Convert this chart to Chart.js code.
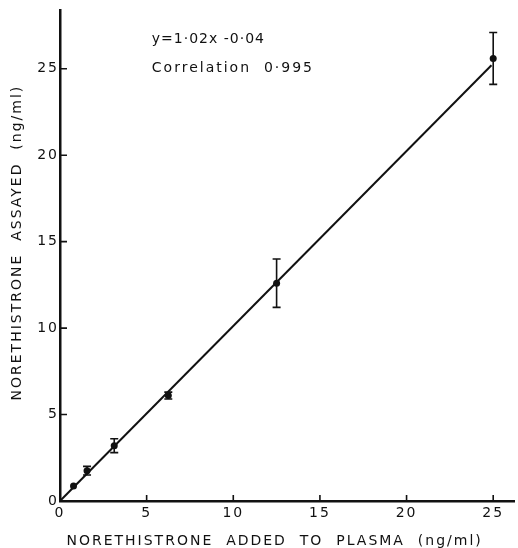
<!DOCTYPE html>
<html>
<head>
<meta charset="utf-8">
<script src="https://cdn.jsdelivr.net/npm/chart.js@4"></script>
<style>
  html, body { margin: 0; padding: 0; background: #fff; }
</style>
</head>
<body>
<canvas id="myChart" width="518" height="548"></canvas>
<script>
// values
var added   = [0.78, 1.56, 3.13, 6.25, 12.5, 25];    // ng/ml added to plasma
var assayed = [0.87, 1.75, 3.2, 6.1, 12.6, 25.6];    // ng/ml assayed
var errs    = [0, 0.25, 0.4, 0.2, 1.4, 1.5];         // +/- error bars
var fitX = [0, 24.9];
var fitY = [0, 25.2];
var notes = ["y=1·02x -0·04", "Correlation  0·995"];
var noteX = 5.3;
var noteY = [26.7, 25.0];

var ink = "#111";
var fontName = "'DejaVu Sans', sans-serif";

// error bars drawn through the chart's own scales
var errorBars = {
  id: 'errorBars',
  afterDatasetsDraw: function(chart) {
    var ctx = chart.ctx, xs = chart.scales.x, ys = chart.scales.y;
    ctx.save();
    ctx.strokeStyle = ink;
    ctx.lineWidth = 1.6;
    for (var i = 0; i < added.length; i++) {
      if (!errs[i]) continue;
      var px = xs.getPixelForValue(added[i]);
      var top = ys.getPixelForValue(assayed[i] + errs[i]);
      var bot = ys.getPixelForValue(assayed[i] - errs[i]);
      ctx.beginPath();
      ctx.moveTo(px, top); ctx.lineTo(px, bot);
      ctx.moveTo(px - 4, top); ctx.lineTo(px + 4, top);
      ctx.moveTo(px - 4, bot); ctx.lineTo(px + 4, bot);
      ctx.stroke();
    }
    ctx.restore();
  }
};

// inward tick marks + the equation text
var extras = {
  id: 'extras',
  beforeDraw: function(chart) { chart.ctx.letterSpacing = '2px'; },
  beforeDatasetsDraw: function(chart) { chart.ctx.letterSpacing = '0px'; },
  afterDraw: function(chart) {
    var ctx = chart.ctx, xs = chart.scales.x, ys = chart.scales.y;
    ctx.save();
    ctx.strokeStyle = ink;
    ctx.lineWidth = 1.6;
    ctx.beginPath();
    xs.ticks.forEach(function(t) {
      var px = xs.getPixelForValue(t.value);
      ctx.moveTo(px, xs.top); ctx.lineTo(px, xs.top - 6);
    });
    ys.ticks.forEach(function(t) {
      var py = ys.getPixelForValue(t.value);
      ctx.moveTo(ys.right, py); ctx.lineTo(ys.right + 7, py);
    });
    ctx.stroke();

    ctx.fillStyle = ink;
    ctx.font = "14px " + fontName;
    ctx.textBaseline = 'middle';
    ctx.textAlign = 'left';
    for (var i = 0; i < notes.length; i++) {
      ctx.letterSpacing = i === 0 ? '1px' : '2px';
      ctx.fillText(notes[i], xs.getPixelForValue(noteX), ys.getPixelForValue(noteY[i]));
    }
    ctx.restore();
  }
};

function drawChart() {
  var pts = [], fit = [];
  for (var i = 0; i < added.length; i++) pts.push({x: added[i], y: assayed[i]});
  for (var j = 0; j < fitX.length; j++) fit.push({x: fitX[j], y: fitY[j]});

  var ctx = document.getElementById("myChart").getContext("2d");
  new Chart(ctx, {
    type: 'scatter',
    data: {
      datasets: [
        { data: pts, backgroundColor: ink, borderColor: ink, pointRadius: 3.5, pointBorderWidth: 0, showLine: false },
        { data: fit, borderColor: ink, borderWidth: 2, pointRadius: 0, showLine: true, fill: false }
      ]
    },
    options: {
      responsive: false,
      animation: false,
      layout: { padding: { top: 10, right: 0, left: 0, bottom: 0 } },
      plugins: { legend: { display: false }, tooltip: { enabled: false } },
      scales: {
        x: {
          type: 'linear', min: 0, max: 26.2,
          afterFit: function(s) { s.height = 47; },
          grid: { drawOnChartArea: false, drawTicks: false },
          border: { display: true, color: ink, width: 2.5 },
          ticks: { stepSize: 5, includeBounds: false, padding: 4, color: ink, font: { family: fontName, size: 14 } },
          title: {
            display: true, align: 'start',
            text: " NORETHISTRONE  ADDED  TO  PLASMA  (ng/ml)",
            color: ink, font: { family: fontName, size: 14, lineHeight: 1 }, padding: { top: 0, bottom: 0 }
          }
        },
        y: {
          type: 'linear', min: 0, max: 28.4,
          afterFit: function(s) { s.width = 60; },
          grid: { drawOnChartArea: false, drawTicks: false },
          border: { display: true, color: ink, width: 2.5 },
          ticks: { stepSize: 5, includeBounds: false, padding: 1, color: ink, font: { family: fontName, size: 14 } },
          title: {
            display: true,
            text: "    NORETHISTRONE  ASSAYED  (ng/ml)",
            color: ink, font: { family: fontName, size: 14 }, padding: { top: 9, bottom: 0 }
          }
        }
      }
    },
    plugins: [errorBars, extras]
  });
}

drawChart();
</script>
</body>
</html>
